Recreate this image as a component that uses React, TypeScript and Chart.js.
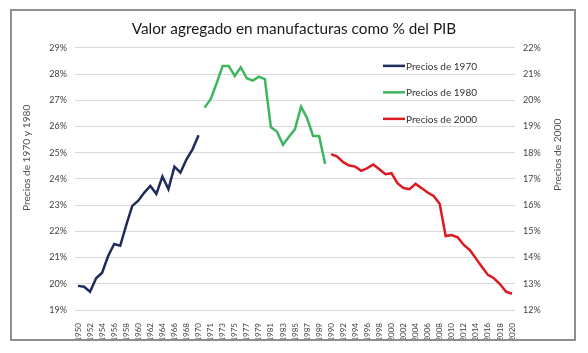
import React, { useEffect, useRef } from 'react';
import { Chart, registerables } from 'chart.js';

Chart.register(...registerables);

const categories: string[] = [
  '1950', '1951', '1952', '1953', '1954', '1955', '1956', '1957', '1958', '1959',
  '1960', '1961', '1962', '1963', '1964', '1965', '1966', '1967', '1968', '1969', '1970',
  '1970', '1971', '1972', '1973', '1974', '1975', '1976', '1977', '1978', '1979',
  '1980', '1981', '1982', '1983', '1984', '1985', '1986', '1987', '1988', '1989', '1990',
  '1990', '1991', '1992', '1993', '1994', '1995', '1996', '1997', '1998', '1999',
  '2000', '2001', '2002', '2003', '2004', '2005', '2006', '2007', '2008', '2009',
  '2010', '2011', '2012', '2013', '2014', '2015', '2016', '2017', '2018', '2019', '2020',
];

// Precios de 1970 (1950-1970), left axis
const precios1970: number[] = [
  19.92, 19.89, 19.7, 20.21, 20.42, 21.06, 21.52, 21.45, 22.24, 22.97, 23.17,
  23.48, 23.73, 23.43, 24.09, 23.61, 24.47, 24.24, 24.75, 25.13, 25.67,
];

// Precios de 1980 (1970-1990), left axis
const precios1980: number[] = [
  26.72, 27.04, 27.65, 28.31, 28.31, 27.93, 28.26, 27.84, 27.75, 27.9, 27.81,
  25.97, 25.81, 25.3, 25.61, 25.9, 26.76, 26.32, 25.64, 25.64, 24.57,
];

// Precios de 2000 (1990-2020), right axis
const precios2000: number[] = [
  17.95, 17.85, 17.64, 17.51, 17.47, 17.31, 17.41, 17.55, 17.37, 17.18, 17.22,
  16.84, 16.65, 16.61, 16.81, 16.65, 16.48, 16.35, 16.05, 14.82, 14.86,
  14.77, 14.48, 14.29, 13.97, 13.65, 13.34, 13.21, 12.99, 12.7, 12.62,
];

const seriesLabels = ['Precios de 1970', 'Precios de 1980', 'Precios de 2000'];
const seriesColors = ['#1f2b5c', '#3db660', '#dc1a22'];

const titleText = 'Valor agregado en manufacturas como % del PIB';
const leftAxisTitle = 'Precios de 1970 y 1980';
const rightAxisTitle = 'Precios de 2000';

const FONT = 'Lato, "Open Sans", "DejaVu Sans", sans-serif';
const TEXT_COLOR = '#404040';
const AXIS_TITLE_COLOR = '#505050';

const pad = (n: number) => new Array(n).fill(null);

const legendPlugin = {
  id: 'insideLegend',
  afterDraw(chart: any) {
    const { ctx, chartArea } = chart;
    ctx.save();
    ctx.font = `10px ${FONT}`;
    ctx.textBaseline = 'middle';
    ctx.textAlign = 'left';
    chart.data.datasets.forEach((ds: any, i: number) => {
      const y = chartArea.top + 18 + i * 26.5;
      const x0 = chartArea.right - 132;
      ctx.strokeStyle = ds.borderColor;
      ctx.lineWidth = 2.5;
      ctx.beginPath();
      ctx.moveTo(x0, y);
      ctx.lineTo(x0 + 22, y);
      ctx.stroke();
      ctx.fillStyle = '#333333';
      ctx.fillText(ds.label, x0 + 23, y + 0.5);
    });
    ctx.restore();
  },
};

const axisTitlePlugin = {
  id: 'axisTitles',
  afterDraw(chart: any) {
    const { ctx, chartArea, width } = chart;
    ctx.save();
    ctx.font = `10.2px ${FONT}`;
    ctx.fillStyle = AXIS_TITLE_COLOR;
    ctx.textAlign = 'center';
    ctx.textBaseline = 'middle';
    ctx.save();
    ctx.translate(27, chartArea.top + 110);
    ctx.rotate(-Math.PI / 2);
    ctx.fillText(leftAxisTitle, 0, 0);
    ctx.restore();
    ctx.save();
    ctx.translate(width - 30, chartArea.top + 107);
    ctx.rotate(-Math.PI / 2);
    ctx.fillText(rightAxisTitle, 0, 0);
    ctx.restore();
    ctx.restore();
  },
};

export default function App() {
  const canvasRef = useRef<HTMLCanvasElement | null>(null);

  useEffect(() => {
    if (!canvasRef.current) return;
    const n = categories.length;
    const d1970 = [...precios1970, ...pad(n - precios1970.length)];
    const d1980 = [...pad(precios1970.length), ...precios1980, ...pad(n - precios1970.length - precios1980.length)];
    const d2000 = [...pad(n - precios2000.length), ...precios2000];

    const chart = new Chart(canvasRef.current, {
      type: 'line',
      data: {
        labels: categories,
        datasets: [
          { label: seriesLabels[0], data: d1970, borderColor: seriesColors[0], backgroundColor: seriesColors[0], yAxisID: 'y', borderWidth: 2.5, pointRadius: 0, spanGaps: false, tension: 0 },
          { label: seriesLabels[1], data: d1980, borderColor: seriesColors[1], backgroundColor: seriesColors[1], yAxisID: 'y', borderWidth: 2.5, pointRadius: 0, spanGaps: false, tension: 0 },
          { label: seriesLabels[2], data: d2000, borderColor: seriesColors[2], backgroundColor: seriesColors[2], yAxisID: 'y1', borderWidth: 2.5, pointRadius: 0, spanGaps: false, tension: 0 },
        ],
      },
      options: {
        responsive: false,
        animation: false,
        devicePixelRatio: 1,
        layout: { padding: 0 },
        plugins: {
          legend: { display: false },
          tooltip: { enabled: false },
          title: {
            display: true,
            text: titleText,
            color: '#1a1a1a',
            font: { family: FONT, size: 15.3, weight: 'normal' },
            padding: { top: 19.5, bottom: 10 },
          },
        },
        scales: {
          x: {
            type: 'category',
            offset: true,
            grid: { display: false },
            border: { display: false },
            ticks: {
              autoSkip: false,
              minRotation: 90,
              maxRotation: 90,
              padding: 5,
              color: TEXT_COLOR,
              font: { family: FONT, size: 8 },
              callback: (_v: any, i: number) => (i % 2 === 0 ? categories[i] : null),
            },
            afterFit: (s: any) => { s.height = 43; },
          },
          y: {
            position: 'left',
            min: 19,
            max: 29,
            grid: { color: '#d9d9d9', lineWidth: 1, drawTicks: false },
            border: { display: false },
            ticks: {
              stepSize: 1,
              padding: 8,
              color: TEXT_COLOR,
              font: { family: FONT, size: 9 },
              callback: (v: any) => `${v}%`,
            },
            afterFit: (s: any) => { s.width = 75; },
          },
          y1: {
            position: 'right',
            min: 12,
            max: 22,
            grid: { display: false, drawTicks: false },
            border: { display: false },
            ticks: {
              stepSize: 1,
              padding: 8,
              color: TEXT_COLOR,
              font: { family: FONT, size: 9 },
              callback: (v: any) => `${v}%`,
            },
            afterFit: (s: any) => { s.width = 73; },
          },
        },
      },
      plugins: [legendPlugin, axisTitlePlugin],
    });
    return () => chart.destroy();
  }, []);

  return (
    <div style={{ position: 'fixed', left: 0, top: 0, width: 588, height: 353, background: '#ffffff' }}>
      <canvas ref={canvasRef} width={588} height={353} style={{ position: 'absolute', left: 0, top: 0, width: 588, height: 353 }} />
      <div
        style={{
          position: 'absolute',
          left: 10,
          top: 9,
          width: 562,
          height: 328,
          border: '2px solid #8e8e8e',
          pointerEvents: 'none',
        }}
      />
    </div>
  );
}
